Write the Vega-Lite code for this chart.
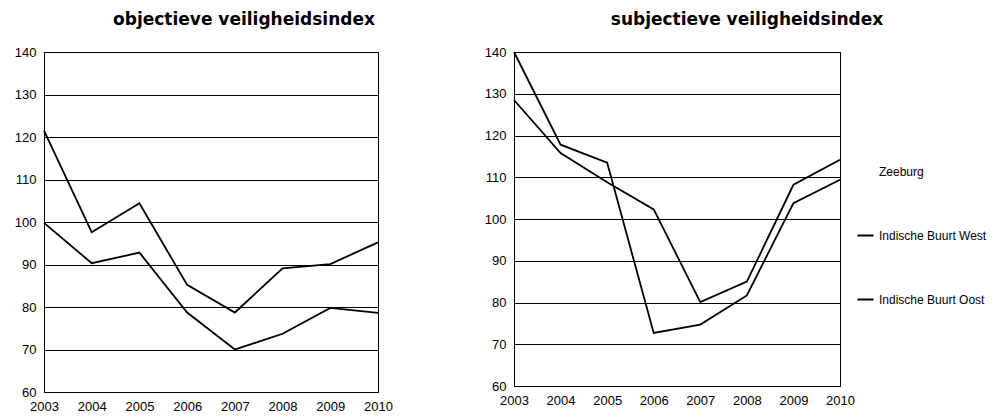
{
  "$schema": "https://vega.github.io/schema/vega-lite/v6.json",
  "padding": {"left": 13, "top": 10, "right": 5, "bottom": 5},
  "background": "white",
  "config": {
    "font": "Liberation Sans",
    "view": {"stroke": "black", "strokeWidth": 1},
    "axis": {"labelFont": "Liberation Sans", "labelFontSize": 13, "labelColor": "black", "ticks": false, "domain": false, "labelPadding": 8, "labelFlush": false, "labelBound": false, "labelOverlap": false},
    "title": {"font": "DejaVu Sans", "fontSize": 17, "fontWeight": "bold", "color": "black", "offset": 17},
    "legend": {"title": null, "orient": "none", "legendX": 812, "legendY": 110, "symbolType": "stroke", "symbolStrokeWidth": 2, "symbolSize": 260, "labelFontSize": 12, "labelFont": "Liberation Sans", "labelColor": "black", "rowPadding": 48}
  },
  "datasets": {
    "obj": [
      {"jaar": 2003, "buurt": "Indische Buurt West", "index": 121.5},
      {"jaar": 2004, "buurt": "Indische Buurt West", "index": 97.6},
      {"jaar": 2005, "buurt": "Indische Buurt West", "index": 104.4},
      {"jaar": 2006, "buurt": "Indische Buurt West", "index": 85.2},
      {"jaar": 2007, "buurt": "Indische Buurt West", "index": 78.7},
      {"jaar": 2008, "buurt": "Indische Buurt West", "index": 89.1},
      {"jaar": 2009, "buurt": "Indische Buurt West", "index": 90.1},
      {"jaar": 2010, "buurt": "Indische Buurt West", "index": 95.2},
      {"jaar": 2003, "buurt": "Indische Buurt Oost", "index": 99.8},
      {"jaar": 2004, "buurt": "Indische Buurt Oost", "index": 90.3},
      {"jaar": 2005, "buurt": "Indische Buurt Oost", "index": 92.8},
      {"jaar": 2006, "buurt": "Indische Buurt Oost", "index": 78.7},
      {"jaar": 2007, "buurt": "Indische Buurt Oost", "index": 70.0},
      {"jaar": 2008, "buurt": "Indische Buurt Oost", "index": 73.7},
      {"jaar": 2009, "buurt": "Indische Buurt Oost", "index": 79.8},
      {"jaar": 2010, "buurt": "Indische Buurt Oost", "index": 78.6}
    ],
    "subj": [
      {"jaar": 2003, "buurt": "Indische Buurt West", "index": 140.0},
      {"jaar": 2004, "buurt": "Indische Buurt West", "index": 117.8},
      {"jaar": 2005, "buurt": "Indische Buurt West", "index": 113.5},
      {"jaar": 2006, "buurt": "Indische Buurt West", "index": 72.7},
      {"jaar": 2007, "buurt": "Indische Buurt West", "index": 74.7},
      {"jaar": 2008, "buurt": "Indische Buurt West", "index": 81.7},
      {"jaar": 2009, "buurt": "Indische Buurt West", "index": 103.8},
      {"jaar": 2010, "buurt": "Indische Buurt West", "index": 109.4},
      {"jaar": 2003, "buurt": "Indische Buurt Oost", "index": 128.5},
      {"jaar": 2004, "buurt": "Indische Buurt Oost", "index": 115.8},
      {"jaar": 2005, "buurt": "Indische Buurt Oost", "index": 108.8},
      {"jaar": 2006, "buurt": "Indische Buurt Oost", "index": 102.3},
      {"jaar": 2007, "buurt": "Indische Buurt Oost", "index": 80.1},
      {"jaar": 2008, "buurt": "Indische Buurt Oost", "index": 85.0},
      {"jaar": 2009, "buurt": "Indische Buurt Oost", "index": 108.2},
      {"jaar": 2010, "buurt": "Indische Buurt Oost", "index": 114.2}
    ]
  },
  "hconcat": [
    {
      "title": {"text": "objectieve veiligheidsindex", "dx": 33},
      "width": 334,
      "height": 340,
      "data": {"name": "obj"},
      "mark": {"type": "line", "strokeWidth": 1.8},
      "encoding": {
        "x": {"field": "jaar", "type": "quantitative", "scale": {"domain": [2003, 2010], "nice": false, "zero": false}, "axis": {"title": null, "values": [2003, 2004, 2005, 2006, 2007, 2008, 2009, 2010], "format": "d", "grid": false}},
        "y": {"field": "index", "type": "quantitative", "scale": {"domain": [60, 140], "nice": false, "zero": false}, "axis": {"title": null, "values": [60, 70, 80, 90, 100, 110, 120, 130, 140], "grid": true, "gridColor": "black", "gridOpacity": 1, "gridWidth": 1}},
        "color": {"field": "buurt", "type": "nominal", "scale": {"domain": ["Zeeburg", "Indische Buurt West", "Indische Buurt Oost"], "range": ["white", "black", "black"]}},
        "detail": {"field": "buurt"}
      }
    },
    {
      "title": {"text": "subjectieve veiligheidsindex", "dx": 70},
      "width": 326,
      "height": 334,
      "data": {"name": "subj"},
      "mark": {"type": "line", "strokeWidth": 1.8},
      "encoding": {
        "x": {"field": "jaar", "type": "quantitative", "scale": {"domain": [2003, 2010], "nice": false, "zero": false}, "axis": {"title": null, "values": [2003, 2004, 2005, 2006, 2007, 2008, 2009, 2010], "format": "d", "grid": false}},
        "y": {"field": "index", "type": "quantitative", "scale": {"domain": [60, 140], "nice": false, "zero": false}, "axis": {"title": null, "values": [60, 70, 80, 90, 100, 110, 120, 130, 140], "grid": true, "gridColor": "black", "gridOpacity": 1, "gridWidth": 1}},
        "color": {"field": "buurt", "type": "nominal", "scale": {"domain": ["Zeeburg", "Indische Buurt West", "Indische Buurt Oost"], "range": ["white", "black", "black"]}},
        "detail": {"field": "buurt"}
      }
    }
  ],
  "spacing": 90
}
